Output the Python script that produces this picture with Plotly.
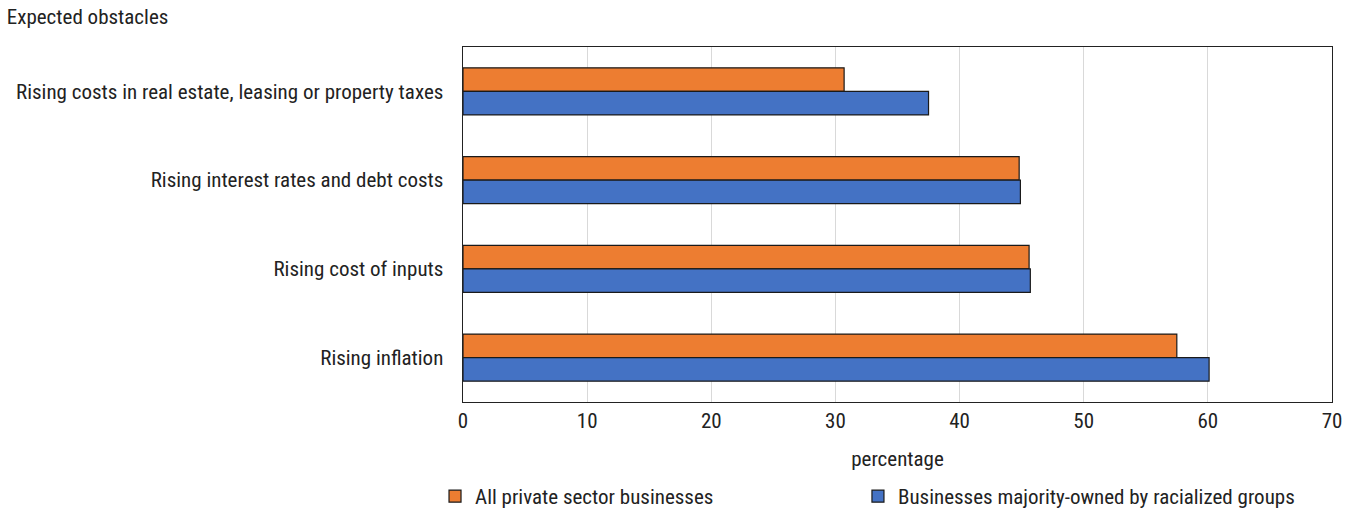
import plotly.graph_objects as go

categories = [
    "Rising costs in real estate, leasing or property taxes",
    "Rising interest rates and debt costs",
    "Rising cost of inputs",
    "Rising inflation",
]
all_private = [30.7, 44.8, 45.6, 57.5]
racialized = [37.5, 44.9, 45.7, 60.1]
series_names = ["All private sector businesses", "Businesses majority\u2011owned by racialized groups"]
x_ticks = [0, 10, 20, 30, 40, 50, 60, 70]

FONT = "Liberation Sans Narrow, Roboto Condensed, Arial Narrow, Roboto, sans-serif"
FS = 21

fig = go.Figure()
fig.add_trace(go.Bar(
    y=categories, x=all_private, orientation="h", name=series_names[0],
    marker=dict(color="#ED7D31", line=dict(color="#1a1a1a", width=1.2)),
    legend="legend",
))
fig.add_trace(go.Bar(
    y=categories, x=racialized, orientation="h", name=series_names[1],
    marker=dict(color="#4472C4", line=dict(color="#1a1a1a", width=1.2)),
    legend="legend2",
))

leg_common = dict(orientation="h", y=0.0703, yref="container", yanchor="top",
                  xanchor="left", font=dict(size=FS), itemwidth=30,
                  bgcolor="rgba(0,0,0,0)")

fig.update_layout(
    width=1354, height=512,
    margin=dict(l=463, r=22, t=47, b=110, autoexpand=False),
    paper_bgcolor="white", plot_bgcolor="white",
    font=dict(family=FONT, size=FS, color="#222222"),
    barmode="group", bargap=0.47, bargroupgap=0,
    title=dict(text="Expected obstacles", x=0.005, xref="container", xanchor="left",
               y=1 - 17 / 512, yref="container", yanchor="middle", font=dict(size=FS),
               pad=dict(l=0, t=0)),
    xaxis=dict(range=[0, 70], tickvals=x_ticks, showgrid=True, gridcolor="#d9d9d9",
               gridwidth=1, zeroline=False, showline=True, linecolor="#222222",
               linewidth=1, mirror=True, ticks="", ticklen=0, automargin=False,
               tickfont=dict(size=FS),
               title=dict(text="percentage", standoff=19, font=dict(size=FS))),
    yaxis=dict(autorange="reversed", showline=True, linecolor="#222222", linewidth=1,
               mirror=True, ticks="", ticksuffix="   ", showgrid=False, automargin=False,
               tickfont=dict(size=FS)),
    legend=dict(x=-0.0322, **leg_common),
    legend2=dict(x=0.4545, **leg_common),
    showlegend=True,
)

fig.write_html(
    "out.html",
    config={"displayModeBar": False},
    post_script="document.body.style.margin='0';document.body.style.overflow='hidden';",
)
